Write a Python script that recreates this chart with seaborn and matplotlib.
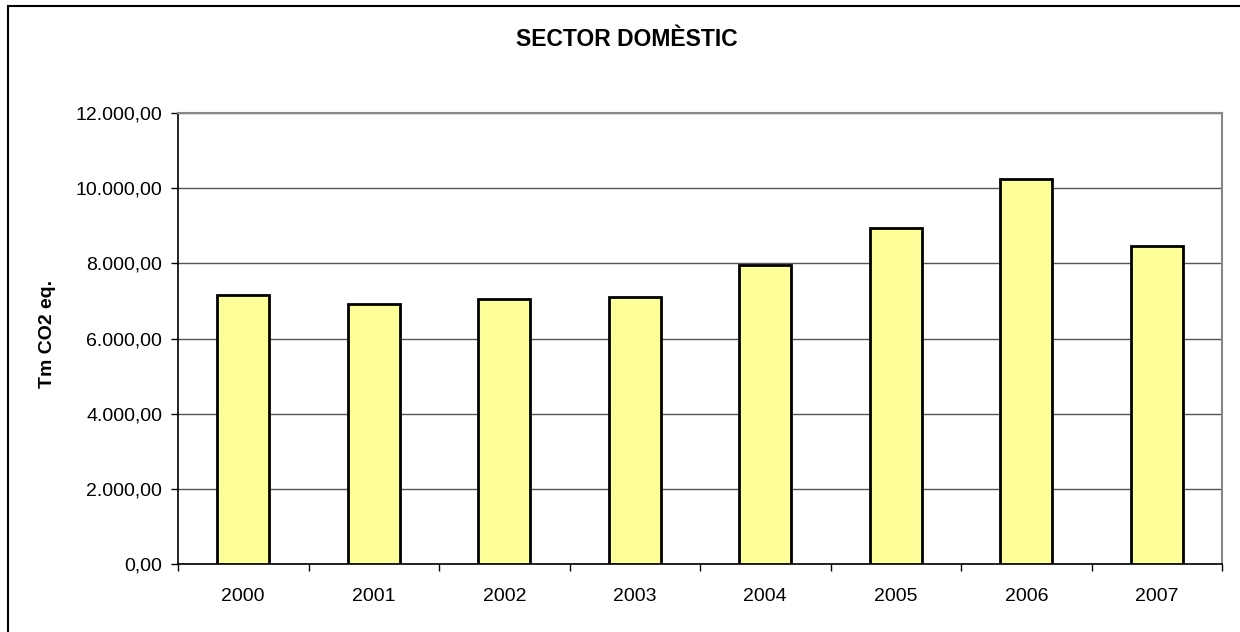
import matplotlib
matplotlib.use("Agg")
import matplotlib.pyplot as plt
import seaborn as sns
import pandas as pd
from matplotlib.patches import Rectangle
from matplotlib.ticker import FuncFormatter, FixedLocator

years = ["2000", "2001", "2002", "2003", "2004", "2005", "2006", "2007"]
values = [7146, 6923, 7040, 7093, 7944, 8936, 10239, 8457]
title = "SECTOR DOMÈSTIC"
ylabel = "Tm CO2 eq."

sns.set_theme(style="white")
plt.rcParams['font.family'] = ['Liberation Sans', 'DejaVu Sans']
plt.rcParams['text.color'] = 'black'
plt.rcParams['axes.labelcolor'] = 'black'
plt.rcParams['xtick.color'] = 'black'
plt.rcParams['ytick.color'] = 'black'

df = pd.DataFrame({"year": years, "value": values})

fig = plt.figure(figsize=(12.4, 6.32), dpi=100)
ax = fig.add_axes([178/1240, 1-564/632, (1222-178)/1240, (564-113)/632])

sns.barplot(data=df, x="year", y="value", color="#FFFF99", edgecolor="black",
            linewidth=2, width=0.4, saturation=1, ax=ax, zorder=3)

ax.set_ylim(0, 12000)
ax.set_xlim(-0.5, len(years) - 0.5)
ax.set_yticks(range(0, 12001, 2000))
ax.yaxis.set_major_formatter(FuncFormatter(
    lambda v, p: f"{v:,.2f}".replace(",", "X").replace(".", ",").replace("X", ".")))
ax.grid(axis="y", color="#555555", linewidth=1, zorder=0)
ax.set_axisbelow(True)
ax.set_xlabel("")
ax.set_ylabel("")

ax.tick_params(axis="x", which="major", length=0, labelsize=14, pad=17, colors="black")
ax.xaxis.set_minor_locator(FixedLocator([i - 0.5 for i in range(len(years) + 1)]))
ax.tick_params(axis="x", which="minor", length=5, width=1, color="black", direction="out", bottom=True)
ax.tick_params(axis="y", length=5, width=1, color="black", direction="out", left=True,
               labelsize=14, pad=6.5, labelcolor="black")

for s in ["left", "bottom"]:
    ax.spines[s].set_color("black")
    ax.spines[s].set_linewidth(1.2)
for s in ["top", "right"]:
    ax.spines[s].set_color("#888888")
    ax.spines[s].set_linewidth(1.5)

fig.text(627/1240, 1-40/632, title, ha="center", va="center", fontsize=16.5,
         fontweight="bold", color="black")
fig.text(48/1240, 1-334/632, ylabel, ha="center", va="center", rotation=90, fontsize=14,
         fontweight="bold", color="black")

fig.patches.append(Rectangle((8/1240, -0.2), 1.2, 1-6/632+0.2, fill=False, edgecolor="black",
                             linewidth=1.5, transform=fig.transFigure, figure=fig))

fig.savefig("out.png", dpi=100)
